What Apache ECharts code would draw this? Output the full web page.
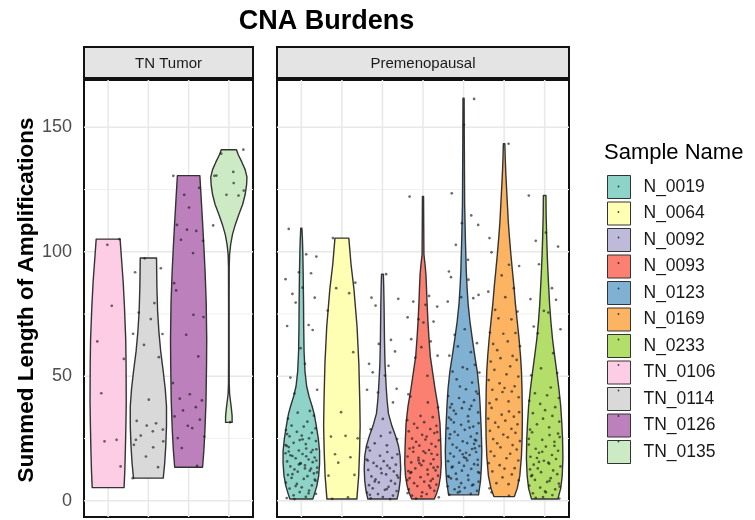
<!DOCTYPE html>
<html><head><meta charset="utf-8">
<script src="https://cdn.jsdelivr.net/npm/echarts@6/dist/echarts.min.js"></script>
<style>html,body{margin:0;padding:0;background:#fff}#c{width:755px;height:520px}</style>
</head><body><div id="c"></div>
<script>
// ---------------- data ----------------
const chartTitle = 'CNA Burdens';
const yTitle = 'Summed Length of Amplifications';
const legendTitle = 'Sample Name';
const panelNames = ['TN Tumor', 'Premenopausal'];
const tnSamples = ['TN_0106', 'TN_0114', 'TN_0126', 'TN_0135'];
const preSamples = ['N_0019', 'N_0064', 'N_0092', 'N_0093', 'N_0123', 'N_0169', 'N_0233'];
const legendOrder = ['N_0019', 'N_0064', 'N_0092', 'N_0093', 'N_0123', 'N_0169', 'N_0233', 'TN_0106', 'TN_0114', 'TN_0126', 'TN_0135'];
const sampleColors = ['#8DD3C7', '#FFFFB3', '#BEBADA', '#FB8072', '#80B1D3', '#FDB462', '#B3DE69', '#FCCDE5', '#D9D9D9', '#BC80BD', '#CCEBC5'];
const yTickValues = [0, 50, 100, 150];
const yMinorValues = [25, 75, 125];

// violin outlines: [value, relative half-width]
const violin_TN_0106 = [[5.3,0.88],[12,0.92],[20,0.95],[30,0.98],[40,1.0],[55,0.99],[65,0.97],[78,0.9],[88,0.83],[97,0.74],[105.1,0.66]];
const violin_TN_0114 = [[9.1,0.82],[15,0.9],[22,0.96],[30,1.0],[38,1.0],[45,0.93],[52,0.82],[60,0.68],[68,0.58],[76,0.51],[86,0.47],[97.5,0.45]];
const violin_TN_0126 = [[13.5,0.77],[20,0.84],[28,0.9],[40,0.96],[55,0.99],[65,1.0],[80,0.97],[92,0.91],[101,0.85],[112,0.77],[122,0.69],[130.6,0.62]];
const violin_TN_0135 = [[31.5,0.18],[34,0.18],[37,0.14],[40,0.09],[43,0.04],[47,0.02],[60,0.015],[80,0.015],[94,0.02],[99,0.04],[103,0.1],[107,0.2],[111,0.36],[115,0.55],[119,0.76],[123,0.9],[127,0.98],[130,1.0],[133,0.9],[136,0.72],[139,0.52],[141,0.42]];
const violin_N_0019 = [[0.7,0.63],[3,0.73],[6,0.85],[10,0.95],[15,1.0],[20,1.0],[25,0.93],[31,0.8],[35,0.7],[38,0.59],[42,0.42],[46,0.29],[52,0.2],[60,0.15],[70,0.13],[80,0.12],[92,0.1],[100,0.08],[105,0.06],[109.5,0.03]];
const violin_N_0064 = [[0.7,0.82],[10,0.92],[20,0.97],[30,1.0],[40,0.98],[55,0.93],[70,0.83],[85,0.66],[95,0.5],[105.5,0.38]];
const violin_N_0092 = [[0.7,0.8],[4,0.9],[8,0.97],[13,1.0],[18,0.97],[22,0.88],[26,0.72],[30,0.52],[35,0.33],[40,0.26],[45,0.21],[55,0.14],[65,0.11],[78,0.09],[86,0.07],[91,0.05]];
const violin_N_0093 = [[0.7,0.62],[3,0.75],[6,0.87],[10,0.96],[15,1.0],[22,0.98],[31,0.93],[38,0.82],[45,0.66],[52,0.52],[58,0.4],[65,0.33],[72,0.27],[80,0.22],[86,0.19],[91,0.16],[95,0.11],[99,0.05],[110,0.04],[122.2,0.03]];
const violin_N_0123 = [[2.4,0.82],[8,0.93],[14,0.98],[20,1.0],[28,0.97],[38,0.91],[45,0.85],[52,0.75],[58,0.62],[65,0.48],[72,0.35],[79,0.25],[86,0.19],[92,0.15],[105,0.1],[119,0.06],[132,0.05],[145,0.04],[161.7,0.03]];
const violin_N_0169 = [[1.7,0.56],[5,0.72],[10,0.86],[18,0.95],[26,0.99],[34,1.0],[45,0.98],[52,0.95],[58,0.9],[65,0.82],[72,0.72],[79,0.62],[86,0.54],[92,0.46],[99,0.37],[106,0.29],[112,0.23],[119,0.18],[126,0.13],[132,0.09],[138,0.06],[143.4,0.04]];
const violin_N_0233 = [[0.7,0.72],[5,0.88],[10,0.96],[17,1.0],[25,0.98],[31,0.94],[38,0.88],[45,0.78],[52,0.66],[58,0.55],[65,0.43],[72,0.34],[79,0.27],[86,0.22],[92,0.18],[99,0.14],[106,0.11],[115,0.08],[122.6,0.07]];

// jittered points
const points_TN_0106 = [105.1, 102.8, 78.3, 64.0, 57.0, 43.2, 24.5, 23.9, 13.8];
const points_TN_0114 = [97.4, 93.4, 91.8, 79.4, 75.6, 73.0, 67.0, 67.1, 62.6, 57.7, 40.6, 32.1, 31.1, 30.2, 28.6, 26.2, 27.9, 22.5, 24.5, 21.5, 23.9, 17.8, 13.5, 9.1];
const points_TN_0126 = [130.5, 122.9, 125.7, 117.8, 110.8, 108.4, 108.9, 104.4, 104.8, 99.5, 87.4, 84.5, 74.7, 73.8, 66.7, 58.0, 47.3, 42.8, 41.0, 40.3, 36.3, 37.6, 33.9, 32.6, 30.1, 29.2, 25.2, 25.8, 21.2, 14.0];
const points_TN_0135 = [141.0, 139.4, 132.1, 130.5, 130.6, 127.6, 124.6, 122.9, 122.6, 110.6, 31.6];
const points_N_0019 = [109.2, 99.0, 98.1, 91.8, 91.4, 89.0, 85.6, 83.1, 81.6, 79.6, 70.6, 70.2, 68.6, 61.3, 55.0, 49.5, 44.6, 43.1, 36.1, 35.4, 34.2, 33.0, 31.8, 30.2, 29.8, 29.1, 28.4, 27.7, 27.3, 26.2, 25.9, 25.1, 24.4, 24.0, 23.3, 22.8, 22.1, 21.6, 21.0, 20.7, 20.2, 19.5, 19.1, 18.8, 18.0, 17.4, 17.1, 16.6, 15.8, 15.5, 14.9, 14.2, 13.8, 13.3, 12.6, 12.1, 11.7, 11.0, 10.4, 9.9, 9.2, 8.8, 8.1, 7.3, 6.8, 6.2, 5.4, 4.9, 4.1, 3.5, 2.8, 2.2, 1.6, 1.1, 19.8, 17.9, 16.2, 14.6, 12.9, 22.4, 24.7, 10.7, 8.5, 5.9, 3.0, 26.8, 20.4, 15.1, 13.0, 18.3, 11.4, 0.7];
const points_N_0064 = [105.5, 87.6, 85.4, 83.4, 76.4, 59.7, 35.6, 26.1, 25.8, 25.1, 18.7, 17.5, 15.3, 10.4, 10.1, 1.4, 0.8];
const points_N_0092 = [91.0, 81.6, 81.1, 78.4, 64.6, 63.0, 60.0, 55.0, 54.2, 51.6, 50.3, 45.0, 44.6, 43.5, 39.5, 32.9, 28.7, 27.4, 26.0, 24.8, 23.1, 22.3, 21.5, 20.2, 19.6, 18.7, 18.1, 17.3, 16.6, 15.9, 15.2, 14.5, 13.9, 13.1, 12.4, 11.8, 11.1, 10.6, 9.8, 9.3, 8.6, 8.0, 7.4, 6.9, 6.3, 5.6, 5.0, 4.4, 3.9, 3.3, 2.7, 2.1, 1.5, 1.0, 0.7, 12.9, 10.2, 7.8, 4.7, 16.2, 2.4, 14.1];
const points_N_0093 = [122.2, 82.3, 80.0, 78.7, 78.0, 73.7, 72.9, 72.0, 71.6, 64.9, 64.0, 61.7, 58.3, 57.5, 50.2, 42.8, 41.9, 39.5, 37.5, 34.1, 33.6, 32.4, 31.6, 30.9, 30.1, 29.3, 28.8, 27.9, 27.2, 26.5, 25.8, 25.0, 24.3, 23.7, 22.9, 22.2, 21.8, 21.0, 20.4, 19.7, 19.2, 18.5, 17.8, 17.3, 16.7, 16.0, 15.4, 14.8, 14.3, 13.6, 13.0, 12.5, 11.9, 11.2, 10.6, 10.1, 9.5, 8.8, 8.3, 7.7, 7.1, 6.5, 5.9, 5.2, 4.6, 4.0, 3.4, 2.7, 2.1, 1.4, 0.9, 18.9, 15.1, 12.2, 9.1, 6.1, 21.4, 24.6, 27.6, 3.1, 16.3, 13.3, 19.9, 11.5, 8.0, 1.8];
const points_N_0123 = [161.4, 151.0, 123.5, 114.6, 111.5, 110.8, 102.8, 96.8, 92.1, 89.8, 88.8, 82.7, 81.8, 81.4, 80.0, 68.9, 66.7, 63.3, 62.0, 59.7, 58.3, 54.6, 53.6, 52.9, 51.9, 51.5, 48.8, 47.5, 45.9, 43.9, 37.5, 36.8, 36.2, 44.8, 43.0, 42.1, 41.3, 40.4, 39.6, 38.8, 38.1, 37.2, 35.5, 34.9, 34.0, 33.4, 32.6, 31.9, 31.2, 30.5, 29.8, 29.1, 28.5, 27.7, 27.1, 26.4, 25.8, 25.1, 24.5, 23.9, 23.2, 22.6, 22.0, 21.4, 20.8, 20.2, 19.6, 19.0, 18.4, 17.8, 17.1, 16.5, 15.9, 15.3, 14.7, 14.0, 13.4, 12.8, 12.1, 11.5, 10.9, 10.2, 9.6, 9.0, 8.4, 7.7, 7.1, 6.5, 5.8, 5.2, 4.6, 4.0, 3.3, 2.8, 2.4, 21.1, 18.7, 16.2, 13.7, 11.2, 8.7, 6.2, 3.7, 24.2, 26.7, 29.4, 31.5, 19.3, 14.4, 9.9, 5.5, 22.9, 17.5];
const points_N_0169 = [143.4, 105.5, 99.8, 94.8, 94.3, 90.5, 85.4, 84.0, 81.8, 76.7, 76.0, 73.3, 72.9, 67.6, 67.4, 67.1, 64.0, 63.0, 62.1, 60.5, 58.2, 57.3, 56.6, 55.9, 54.0, 52.6, 50.8, 49.9, 48.5, 47.2, 46.0, 45.3, 44.6, 43.9, 43.7, 41.6, 40.7, 39.9, 39.2, 37.3, 35.9, 35.6, 34.6, 33.8, 33.0, 32.2, 31.4, 30.7, 29.6, 28.9, 28.1, 27.3, 26.6, 25.5, 24.8, 24.0, 23.1, 22.4, 21.5, 20.6, 19.8, 18.9, 18.0, 17.1, 16.2, 15.1, 14.3, 13.1, 12.9, 11.8, 10.6, 9.4, 8.2, 7.1, 6.7, 5.0, 3.4, 2.0];
const points_N_0233 = [122.6, 107.7, 104.4, 102.1, 95.0, 85.4, 81.0, 80.7, 76.3, 75.6, 70.0, 68.9, 67.3, 59.3, 53.2, 51.3, 50.4, 45.5, 43.2, 42.4, 41.3, 40.1, 38.9, 37.6, 36.4, 35.2, 34.1, 33.0, 31.8, 30.7, 29.5, 28.6, 27.5, 26.4, 25.6, 24.5, 23.7, 22.6, 21.8, 20.9, 20.1, 19.3, 18.4, 17.7, 16.8, 16.1, 15.3, 14.5, 13.8, 13.0, 12.2, 11.5, 10.7, 9.9, 9.1, 8.4, 7.6, 6.9, 6.1, 5.3, 4.6, 3.8, 3.0, 2.3, 1.5, 0.9, 17.2, 14.9, 12.6, 10.3, 8.0, 5.7, 19.7, 22.1, 24.9, 3.4, 1.2, 27.0, 15.6];

// ---------------- layout / style ----------------
const violins = {TN_0106: violin_TN_0106, TN_0114: violin_TN_0114, TN_0126: violin_TN_0126, TN_0135: violin_TN_0135,
  N_0019: violin_N_0019, N_0064: violin_N_0064, N_0092: violin_N_0092, N_0093: violin_N_0093, N_0123: violin_N_0123, N_0169: violin_N_0169, N_0233: violin_N_0233};
const pointsBy = {TN_0106: points_TN_0106, TN_0114: points_TN_0114, TN_0126: points_TN_0126, TN_0135: points_TN_0135,
  N_0019: points_N_0019, N_0064: points_N_0064, N_0092: points_N_0092, N_0093: points_N_0093, N_0123: points_N_0123, N_0169: points_N_0169, N_0233: points_N_0233};
const jitterPattern = [-0.31,0.12,0.37,-0.06,0.24,-0.39,0.03,-0.22,0.33,-0.14,0.18,-0.35,0.28,-0.02,0.09,-0.27,0.39,-0.17,0.21,-0.09,0.31,-0.33,0.15,-0.24,0.06,0.35,-0.38,-0.11,0.26,0.01,-0.29,0.19,-0.04,0.36,-0.19,0.11,-0.36];
const FONT = '"Liberation Sans", Arial, Helvetica, sans-serif';
const HALF = 0.45;
const panels = [
  {samples: tnSamples, left: 84, width: 169},
  {samples: preSamples, left: 277, width: 292}
];
const PTOP = 80, PH = 437, STRIP_TOP = 47, STRIP_H = 31;
const Y_MIN = -6.5, Y_MAX = 169;

const colorOf = s => sampleColors[legendOrder.indexOf(s)];

const grids = [], xAxes = [], yAxes = [], series = [];
panels.forEach((p, gi) => {
  grids.push({left: p.left, top: PTOP, width: p.width, height: PH, show: true,
    backgroundColor: '#fff', borderColor: '#111', borderWidth: 2});
  xAxes.push({gridIndex: gi, type: 'value', min: 0.4, max: p.samples.length + 0.6,
    axisLine: {show: false}, axisTick: {show: false}, axisLabel: {show: false}, splitLine: {show: false}});
  yAxes.push({gridIndex: gi, type: 'value', min: Y_MIN, max: Y_MAX,
    axisLine: {show: false}, axisTick: {show: false}, splitLine: {show: false},
    axisLabel: gi === 0 ? {customValues: yTickValues, fontSize: 18, color: '#4d4d4d', margin: 12, fontFamily: FONT} : {show: false}});
  // grid lines
  const gl = [];
  yTickValues.forEach(v => gl.push([v, 0]));
  yMinorValues.forEach(v => gl.push([v, 1]));
  p.samples.forEach((s, i) => gl.push([i + 1, 2]));
  series.push({type: 'custom', xAxisIndex: gi, yAxisIndex: gi, silent: true, z: 1, data: gl,
    renderItem(params, api) {
      const cs = params.coordSys; const v = api.value(0), k = api.value(1);
      if (k === 2) {
        const x = api.coord([v, 0])[0];
        return {type: 'line', shape: {x1: x, y1: cs.y, x2: x, y2: cs.y + cs.height}, style: {stroke: '#e8e8e8', lineWidth: 1.5}};
      }
      const y = api.coord([1, v])[1];
      return {type: 'line', shape: {x1: cs.x, y1: y, x2: cs.x + cs.width, y2: y},
        style: {stroke: k === 0 ? '#e8e8e8' : '#f1f1f1', lineWidth: k === 0 ? 1.5 : 1}};
    }});
  // violins
  p.samples.forEach((s, i) => {
    const prof = violins[s], pos = i + 1, col = colorOf(s);
    series.push({type: 'custom', name: s, xAxisIndex: gi, yAxisIndex: gi, z: 2, silent: true,
      itemStyle: {color: col}, data: [[pos, prof[0][0]]],
      renderItem(params, api) {
        const right = prof.map(q => api.coord([pos + q[1] * HALF, q[0]]));
        const left = prof.slice().reverse().map(q => api.coord([pos - q[1] * HALF, q[0]]));
        return {type: 'polygon', shape: {points: right.concat(left)},
          style: {fill: col, stroke: '#333', lineWidth: 1.4, lineJoin: 'round'}};
      }});
  });
  // jittered points
  const pts = [];
  p.samples.forEach((s, i) => {
    const off = legendOrder.indexOf(s) * 7;
    pointsBy[s].forEach((v, j) => pts.push([i + 1 + jitterPattern[(j + off) % jitterPattern.length], v]));
  });
  series.push({type: 'scatter', xAxisIndex: gi, yAxisIndex: gi, z: 3, silent: true, data: pts,
    symbolSize: 2.7, itemStyle: {color: 'rgba(25,25,25,0.8)'}});
});

const graphic = [];
panels.forEach((p, gi) => {
  graphic.push({type: 'rect', shape: {x: p.left, y: STRIP_TOP, width: p.width, height: STRIP_H},
    style: {fill: '#e4e4e4', stroke: '#111', lineWidth: 2}, z: 10});
  graphic.push({type: 'text', x: p.left + p.width / 2, y: STRIP_TOP + STRIP_H / 2 + 1, z: 11,
    style: {text: panelNames[gi], fontSize: 15, fill: '#1a1a1a', fontFamily: FONT, textAlign: 'center', textVerticalAlign: 'middle'}});
});
graphic.push({type: 'text', x: 326.5, y: 22, style: {text: chartTitle, fontSize: 27, fontWeight: 'bold', fill: '#000',
  fontFamily: FONT, textAlign: 'center', textVerticalAlign: 'middle'}});
graphic.push({type: 'text', x: 27, y: 300, rotation: Math.PI / 2, style: {text: yTitle, fontSize: 22.5, fontWeight: 'bold', fill: '#000',
  fontFamily: FONT, textAlign: 'center', textVerticalAlign: 'middle'}});
graphic.push({type: 'text', x: 604, y: 153, style: {text: legendTitle, fontSize: 22, fill: '#000',
  fontFamily: FONT, textAlign: 'left', textVerticalAlign: 'middle'}});
const LEG_LEFT = 607, LEG_TOP = 175, KEY = 23, GAP = 2.5;
legendOrder.forEach((s, i) => {
  graphic.push({type: 'circle', shape: {cx: LEG_LEFT + KEY / 2, cy: LEG_TOP + KEY / 2 + i * (KEY + GAP), r: 0.9},
    style: {fill: 'rgba(25,25,25,0.8)'}, z: 20});
});

const chart = echarts.init(document.getElementById('c'), null, {renderer: 'canvas'});
chart.setOption({
  animation: false,
  backgroundColor: '#fff',
  grid: grids, xAxis: xAxes, yAxis: yAxes, series,
  legend: {data: legendOrder, orient: 'vertical', left: LEG_LEFT, top: LEG_TOP, padding: 0,
    itemWidth: KEY, itemHeight: KEY, itemGap: GAP, icon: 'rect', selectedMode: false,
    itemStyle: {borderColor: '#333', borderWidth: 1},
    textStyle: {fontSize: 17.5, color: '#1a1a1a', fontFamily: FONT, padding: [0, 0, 0, 8]}},
  graphic
});
</script></body></html>
